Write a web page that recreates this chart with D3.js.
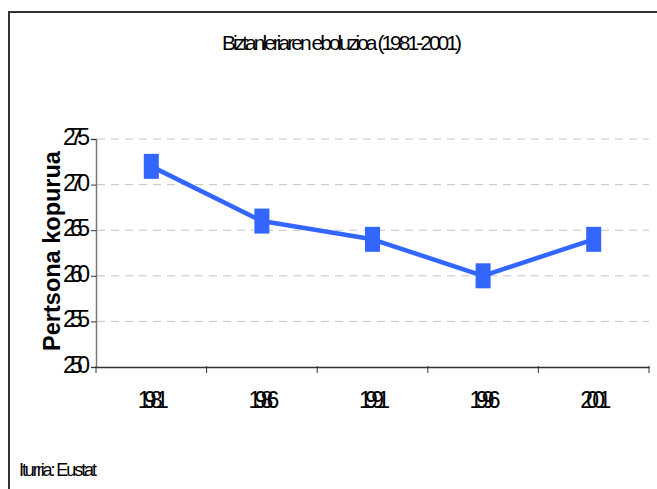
<!DOCTYPE html>
<html><head><meta charset="utf-8">
<script src="https://cdn.jsdelivr.net/npm/d3@7"></script>
<style>html,body{margin:0;padding:0;background:#fff;}svg{display:block;}</style>
</head><body>
<script>
const years = ["1981","1986","1991","1996","2001"];
const values = [272, 266, 264, 260, 264];
const yTicks = [250, 255, 260, 265, 270, 275];
const titleText = "Biztanleriaren eboluzioa (1981-2001)";
const yTitle = "Pertsona kopurua";
const sourceText = "Iturria: Eustat";

const W = 657, H = 489;
const svg = d3.select("body").append("svg").attr("width", W).attr("height", H);
const font = "'Liberation Sans', Arial, sans-serif";

// squeeze text to a target width with negative letter-spacing; align: 'start'|'middle'|'end'
function squeeze(textSel, target, align) {
  textSel.each(function() {
    const t = d3.select(this);
    const ax = +t.attr("x");
    t.attr("text-anchor", "start").attr("letter-spacing", 0);
    const nat = this.getComputedTextLength();
    const n = this.textContent.length;
    const ls = n > 1 ? (target - nat) / (n - 1) : 0;
    t.attr("letter-spacing", ls);
    let left = ax;
    if (align === "middle") left = ax - target / 2;
    if (align === "end") left = ax - target;
    t.attr("x", left);
  });
}

// outer border (extends off-canvas right/bottom)
svg.append("path").attr("d", "M9,700 V12 H700").attr("fill","none").attr("stroke","#333").attr("stroke-width",2);

const x = d3.scaleBand().domain(years).range([96, 649]).padding(0);
const y = d3.scaleLinear().domain([250, 275]).range([367, 139]);

// gridlines
svg.append("g").selectAll("line").data(yTicks.filter(t => t > 250)).join("line")
  .attr("x1", 97).attr("x2", 649).attr("y1", d => y(d)).attr("y2", d => y(d))
  .attr("stroke", "#c4c4c4").attr("stroke-width", 1).attr("stroke-dasharray", "8,6");

// y axis
const ya = svg.append("g").attr("transform", "translate(96,0)")
  .call(d3.axisLeft(y).tickValues(yTicks).tickSize(5).tickFormat(""));
ya.select(".domain").attr("stroke", "#777").attr("stroke-width", 1.5);
ya.selectAll(".tick line").attr("stroke", "#333");

svg.append("g").selectAll("text").data(yTicks).join("text")
  .attr("x", 90).attr("y", d => y(d) + 6)
  .attr("font-family", font).attr("font-size", 23)
  .attr("fill", "#000").text(d => d)
  .call(s => squeeze(s, 27, "end"));

// x axis
const xa = svg.append("g").attr("transform", "translate(0,367)")
  .call(d3.axisBottom(x).tickSizeOuter(0).tickSize(0).tickFormat(""));
xa.select(".domain").attr("stroke", "#333").attr("stroke-width", 1.5);
const bounds = years.map(d => x(d)).concat([x(years[years.length-1]) + x.bandwidth()]);
svg.append("g").selectAll("line").data(bounds).join("line")
  .attr("x1", d => d).attr("x2", d => d).attr("y1", 366).attr("y2", 373)
  .attr("stroke", "#333").attr("stroke-width", 1);

svg.append("g").selectAll("text").data(years).join("text")
  .attr("x", d => x(d) + x.bandwidth()/2 + 2).attr("y", 408)
  .attr("font-family", font).attr("font-size", 23)
  .attr("fill", "#000").text(d => d)
  .call(s => squeeze(s, 31, "middle"));

// line
const line = d3.line().x((d,i) => x(years[i]) + x.bandwidth()/2).y(d => y(d));
svg.append("path").datum(values).attr("d", line)
  .attr("fill", "none").attr("stroke", "#3366FF").attr("stroke-width", 4.5).attr("stroke-linejoin", "round");

svg.append("g").selectAll("rect").data(values).join("rect")
  .attr("x", (d,i) => x(years[i]) + x.bandwidth()/2 - 7.5)
  .attr("y", d => y(d) - 12.5)
  .attr("width", 15).attr("height", 25)
  .attr("fill", "#3366FF");

// title
svg.append("text").attr("x", 342).attr("y", 50)
  .attr("font-family", font).attr("font-size", 21)
  .attr("fill", "#000").text(titleText)
  .call(s => squeeze(s, 240, "middle"));

// y title
svg.append("text").attr("transform", "translate(60,251) rotate(-90)")
  .attr("text-anchor", "middle")
  .attr("font-family", font).attr("font-size", 23.5).attr("font-weight", "bold")
  .attr("fill", "#000").text(yTitle);

// source
svg.append("text").attr("x", 19).attr("y", 476)
  .attr("font-family", font).attr("font-size", 18)
  .attr("fill", "#000").text(sourceText)
  .call(s => squeeze(s, 78, "start"));
</script>
</body></html>
